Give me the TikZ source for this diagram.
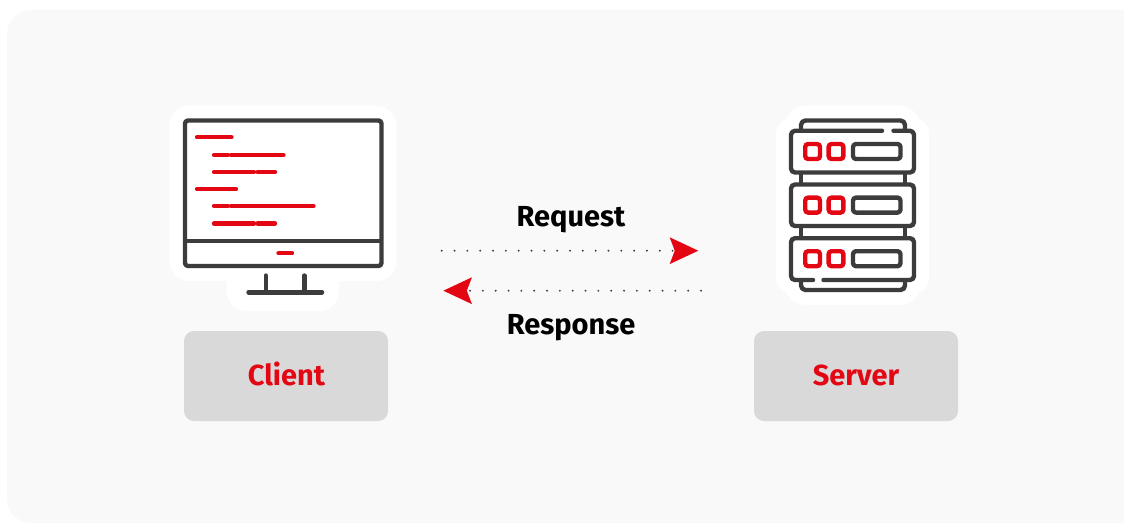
\documentclass[tikz,border=0pt]{standalone}
\usepackage{fontspec}
\setmainfont{Fira Sans}
\usetikzlibrary{arrows.meta}
\definecolor{panel}{HTML}{F9F9F9}
\definecolor{dark}{HTML}{3C3C3C}
\definecolor{brand}{HTML}{E30613}
\definecolor{tag}{HTML}{D9D9D9}
\tikzset{
  x=1pt,y=-1pt,
  icon/.style={draw=dark,line width=4.4pt,line cap=round,line join=round},
  code/.style={draw=brand,line width=4.3pt,line cap=round},
  led/.style={draw=brand,line width=4.4pt,rounded corners=3pt},
  halo/.style={fill=white,rounded corners=#1},
  tagbox/.style={fill=tag,rounded corners=10pt,minimum width=204pt,minimum height=90pt,inner sep=0pt},
  tagtext/.style={text=brand,inner sep=0pt,anchor=base,font=\fontsize{29}{32}\selectfont\bfseries},
  msg/.style={text=black,inner sep=0pt,anchor=base,font=\fontsize{29}{32}\selectfont\bfseries},
  flow/.style={draw=dark,line width=2.1pt,line cap=round,dash pattern=on 0pt off 12.83pt,
    -{Stealth[length=28.5pt,width=26.5pt,inset=5pt,color=brand]}},
}
\begin{document}
\begin{tikzpicture}
\useasboundingbox (0,0) rectangle (1124,524);
\fill[white] (0,0) rectangle (1124,524);
\fill[panel,rounded corners=24pt] (7,10) rectangle (1150,523);
% client halo
\fill[halo=20pt] (169.5,105.7) rectangle (396.7,281);
\fill[halo=20pt] (226.7,260) rectangle (339,311);
% monitor
\draw[icon,rounded corners=3pt] (185,120.5) rectangle (381.5,266);
\draw[icon,line cap=butt] (185,240.7) -- (381.5,240.7);
\draw[icon] (265.7,275.5) -- (265.7,292.3);
\draw[icon] (304.3,275.5) -- (304.3,292.3);
\draw[icon] (248.5,292.3) -- (322,292.3);
\draw[code] (197,137.3) -- (231.5,137.3);
\draw[code] (214,155) -- (228,155);
\draw[code] (231,155) -- (283.5,155);
\draw[code] (214,172) -- (254,172);
\draw[code] (257.5,172) -- (275,172);
\draw[code] (197,189) -- (236,189);
\draw[code] (214,206) -- (228,206);
\draw[code] (231,206) -- (313.5,206);
\draw[code] (214,223.5) -- (254,223.5);
\draw[code] (257.5,223.5) -- (275,223.5);
\draw[code] (278.5,253.3) -- (292,253.3);
% server halo
\fill[halo=16pt] (776,118) rectangle (929,294);
\fill[halo=22pt] (784,105.7) rectangle (921,305);
% server
\draw[icon,rounded corners=4.5pt] (801,129.5) -- (801,120.5) -- (905,120.5) -- (905,129.5);
\draw[icon,rounded corners=4pt] (882,130.8) -- (791,130.8) -- (791,172.5) -- (914,172.5) -- (914,130.8) -- (893.5,130.8);
\draw[icon,rounded corners=4pt] (791,184.5) rectangle (914,226);
\draw[icon,rounded corners=4pt] (813,280) -- (791,280) -- (791,238.2) -- (914,238.2) -- (914,280) -- (823.5,280);
\draw[icon,line cap=butt] (801,172.5) -- (801,184.5);
\draw[icon,line cap=butt] (905,172.5) -- (905,184.5);
\draw[icon,line cap=butt] (801,226) -- (801,238.2);
\draw[icon,line cap=butt] (905,226) -- (905,238.2);
\draw[icon,rounded corners=4.5pt] (801,281) -- (801,290) -- (905,290) -- (905,281);
\foreach \dy in {0,53.6,107.2}{
  \draw[led] (805.2,144+\dy) rectangle (820,159+\dy);
  \draw[led] (828.6,144+\dy) rectangle (843.4,159+\dy);
  \draw[icon,rounded corners=3pt] (853,144+\dy) rectangle (900.5,159+\dy);
}
% tags
\node[tagbox] (client) at (286,376) {};
\node[tagbox] (server) at (856,376) {};
\node[tagtext] (clientlabel) at (286.5,385.5) {Client};
\node[tagtext] (serverlabel) at (856,385.5) {Server};
% messages
\coordinate (reqa) at (441.7,250.7);
\coordinate (reqb) at (698.3,250.7);
\coordinate (resa) at (701,290.7);
\coordinate (resb) at (443.3,290.7);
\draw[flow] (reqa) -- (reqb);
\draw[flow] (resa) -- (resb);
\node[msg] (request) at (571,226) {Request};
\node[msg] (response) at (571,334.3) {Response};
\end{tikzpicture}
\end{document}
